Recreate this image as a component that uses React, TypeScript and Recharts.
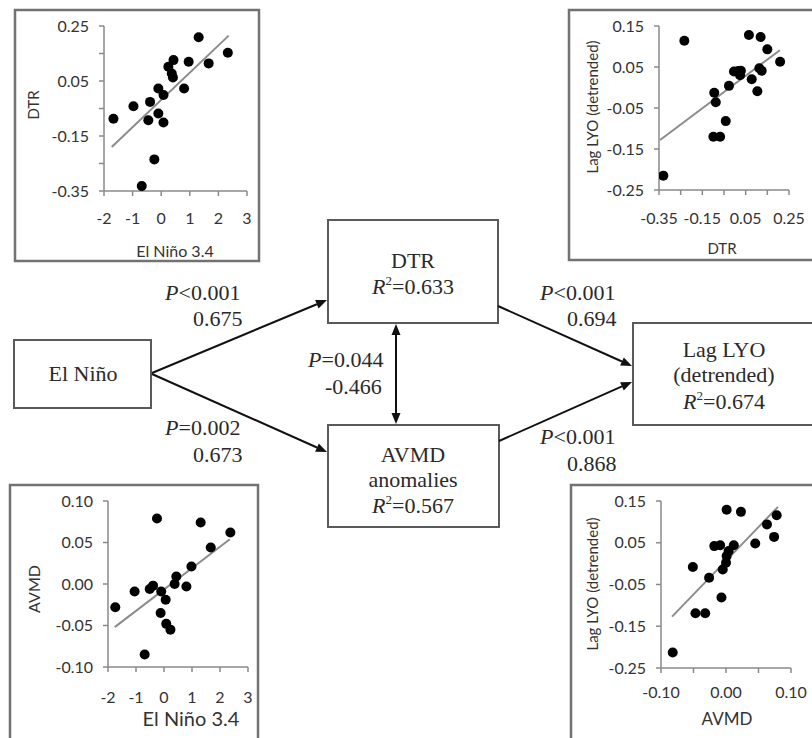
import React from "react";
import { ScatterChart, Scatter, XAxis, YAxis, ReferenceLine, Label } from "recharts";

// ---------- data ----------
const dtrVsNino = [
  { x: -1.67, y: -0.087 }, { x: -0.97, y: -0.042 }, { x: -0.39, y: -0.026 }, { x: -0.45, y: -0.093 },
  { x: -0.1, y: -0.068 }, { x: 0.08, y: -0.101 }, { x: -0.1, y: 0.023 }, { x: 0.08, y: -0.001 },
  { x: 0.25, y: 0.102 }, { x: 0.43, y: 0.126 }, { x: 0.37, y: 0.077 }, { x: 0.41, y: 0.063 },
  { x: 0.8, y: 0.023 }, { x: 0.96, y: 0.12 }, { x: 1.31, y: 0.209 }, { x: 1.66, y: 0.114 },
  { x: 2.33, y: 0.153 }, { x: -0.24, y: -0.235 }, { x: -0.68, y: -0.332 },
];
const dtrVsNinoTrend = [{ x: -1.73, y: -0.19 }, { x: 2.36, y: 0.215 }];

const lyoVsDtr = [
  { x: -0.33, y: -0.215 }, { x: -0.233, y: 0.114 }, { x: -0.095, y: -0.013 }, { x: -0.088, y: -0.036 },
  { x: -0.099, y: -0.12 }, { x: -0.068, y: -0.12 }, { x: -0.042, y: -0.082 }, { x: -0.027, y: 0.004 },
  { x: -0.004, y: 0.039 }, { x: 0.016, y: 0.04 }, { x: 0.024, y: 0.03 }, { x: 0.028, y: 0.041 },
  { x: 0.065, y: 0.128 }, { x: 0.078, y: 0.02 }, { x: 0.104, y: -0.009 }, { x: 0.113, y: 0.047 },
  { x: 0.124, y: 0.041 }, { x: 0.119, y: 0.123 }, { x: 0.15, y: 0.093 }, { x: 0.209, y: 0.063 },
];
const lyoVsDtrTrend = [{ x: -0.345, y: -0.128 }, { x: 0.208, y: 0.091 }];

const avmdVsNino = [
  { x: -1.74, y: -0.028 }, { x: -1.05, y: -0.009 }, { x: -0.51, y: -0.006 }, { x: -0.39, y: -0.002 },
  { x: -0.25, y: 0.079 }, { x: -0.1, y: -0.009 }, { x: -0.12, y: -0.035 }, { x: 0.06, y: -0.019 },
  { x: 0.08, y: -0.048 }, { x: 0.23, y: -0.055 }, { x: 0.38, y: 0.0 }, { x: 0.44, y: 0.009 },
  { x: 0.8, y: -0.003 }, { x: 0.98, y: 0.021 }, { x: 1.31, y: 0.074 }, { x: 1.67, y: 0.044 },
  { x: 2.37, y: 0.062 }, { x: -0.69, y: -0.085 },
];
const avmdVsNinoTrend = [{ x: -1.76, y: -0.052 }, { x: 2.35, y: 0.054 }];

const lyoVsAvmd = [
  { x: -0.082, y: -0.213 }, { x: -0.051, y: -0.008 }, { x: -0.047, y: -0.119 }, { x: -0.032, y: -0.119 },
  { x: -0.026, y: -0.034 }, { x: -0.018, y: 0.042 }, { x: -0.009, y: 0.044 }, { x: -0.007, y: -0.081 },
  { x: -0.005, y: -0.014 }, { x: 0.0, y: 0.002 }, { x: 0.001, y: 0.129 }, { x: 0.001, y: 0.018 },
  { x: 0.004, y: 0.03 }, { x: 0.012, y: 0.044 }, { x: 0.023, y: 0.124 }, { x: 0.045, y: 0.048 },
  { x: 0.063, y: 0.094 }, { x: 0.074, y: 0.064 }, { x: 0.078, y: 0.116 },
];
const lyoVsAvmdTrend = [{ x: -0.083, y: -0.127 }, { x: 0.08, y: 0.136 }];

// ---------- ticks ----------
const ninoTicks = [-2, -1, 0, 1, 2, 3];
const ninoTickLabels = ["-2", "-1", "0", "1", "2", "3"];
const dtrTicks = [-0.35, -0.25, -0.15, -0.05, 0.05, 0.15, 0.25];
const dtrTickLabels = ["-0.35", "", "-0.15", "", "0.05", "", "0.25"];
const lyoTicks = [-0.25, -0.15, -0.05, 0.05, 0.15];
const lyoTickLabels = ["-0.25", "-0.15", "-0.05", "0.05", "0.15"];
const avmdYTicks = [-0.1, -0.05, 0, 0.05, 0.1];
const avmdYTickLabels = ["-0.10", "-0.05", "0.00", "0.05", "0.10"];
const avmdXTicks = [-0.1, -0.05, 0, 0.05, 0.1];
const avmdXTickLabels = ["-0.10", "", "0.00", "", "0.10"];

// ---------- styles ----------
const AX = "#8a8a8a";
const TXT = "#333";
const SANS = "Lato, 'Open Sans', sans-serif";
const SERIF = "'Liberation Serif', 'Times New Roman', serif";

type Pt = { x: number; y: number };
type Spec = {
  box: number[];
  plot: number[];
  xDomain: number[];
  yDomain: number[];
  xTicks: number[];
  xTickLabels: string[];
  yTicks: number[];
  yTickLabels: string[];
  xDy: number;
  data: Pt[];
  trend: Pt[];
  xTitle: string;
  xTitlePos: number[];
  xTitleSize: number;
  yTitle: string;
  yTitlePos: number[];
  yTitleSize: number;
};

const panels: Spec[] = [
  {
    box: [15, 10, 244, 251], plot: [104, 247, 26, 191],
    xDomain: [-2, 3], yDomain: [-0.35, 0.25],
    xTicks: ninoTicks, xTickLabels: ninoTickLabels, yTicks: dtrTicks, yTickLabels: dtrTickLabels, xDy: 28,
    data: dtrVsNino, trend: dtrVsNinoTrend,
    xTitle: "El Niño 3.4", xTitlePos: [175, 250], xTitleSize: 16,
    yTitle: "DTR", yTitlePos: [33, 105], yTitleSize: 15,
  },
  {
    box: [569, 10, 260, 250], plot: [659, 789, 26, 190],
    xDomain: [-0.35, 0.25], yDomain: [-0.25, 0.15],
    xTicks: dtrTicks, xTickLabels: dtrTickLabels, yTicks: lyoTicks, yTickLabels: lyoTickLabels, xDy: 29,
    data: lyoVsDtr, trend: lyoVsDtrTrend,
    xTitle: "DTR", xTitlePos: [722, 248], xTitleSize: 15,
    yTitle: "Lag LYO (detrended)", yTitlePos: [592, 107], yTitleSize: 15,
  },
  {
    box: [10, 485, 248, 270], plot: [108, 248, 501, 667],
    xDomain: [-2, 3], yDomain: [-0.1, 0.1],
    xTicks: ninoTicks, xTickLabels: ninoTickLabels, yTicks: avmdYTicks, yTickLabels: avmdYTickLabels, xDy: 31,
    data: avmdVsNino, trend: avmdVsNinoTrend,
    xTitle: "El Niño 3.4", xTitlePos: [191, 718], xTitleSize: 20,
    yTitle: "AVMD", yTitlePos: [33, 589], yTitleSize: 16,
  },
  {
    box: [571, 485, 260, 270], plot: [661, 791, 501, 668],
    xDomain: [-0.1, 0.1], yDomain: [-0.25, 0.15],
    xTicks: avmdXTicks, xTickLabels: avmdXTickLabels, yTicks: lyoTicks, yTickLabels: lyoTickLabels, xDy: 25,
    data: lyoVsAvmd, trend: lyoVsAvmdTrend,
    xTitle: "AVMD", xTitlePos: [727, 718], xTitleSize: 17,
    yTitle: "Lag LYO (detrended)", yTitlePos: [592, 584], yTitleSize: 15,
  },
];

const findLabel = (ticks: number[], labels: string[], v: number) => {
  const i = ticks.findIndex((t) => Math.abs(t - v) < 1e-9);
  return i >= 0 ? labels[i] : "";
};

function Panel({ spec }: { spec: Spec }) {
  const [bl, bt, bw, bh] = spec.box;
  const [px0, px1, py0, py1] = spec.plot;
  const margin = { top: py0 - bt, right: bl + bw - px1, left: 0, bottom: 0 };
  const yAxisW = px0 - bl;
  const xAxisH = bt + bh - py1;
  const xTick = (p: any) => {
    const s = findLabel(spec.xTicks, spec.xTickLabels, p.payload.value);
    if (!s) return <g />;
    return (
      <text x={p.x} y={p.y + spec.xDy} textAnchor="middle" fontFamily={SANS} fontSize={16} fill={TXT}>
        {s}
      </text>
    );
  };
  const yTick = (p: any) => {
    const s = findLabel(spec.yTicks, spec.yTickLabels, p.payload.value);
    if (!s) return <g />;
    return (
      <text x={p.x} y={p.y + 5.5} textAnchor="end" fontFamily={SANS} fontSize={16} fill={TXT}>
        {s}
      </text>
    );
  };
  const xt = spec.xTitlePos;
  const yt = spec.yTitlePos;
  return (
    <div style={{ position: "absolute", left: bl, top: bt, width: bw, height: bh }}>
      <ScatterChart width={bw} height={bh} margin={margin}>
        <XAxis
          type="number" dataKey="x" domain={spec.xDomain} ticks={spec.xTicks} interval={0}
          height={xAxisH} allowDataOverflow
          axisLine={{ stroke: AX, strokeWidth: 1.5 }} tickLine={{ stroke: AX, strokeWidth: 1.5 }}
          tickSize={5} tickMargin={0} tick={xTick}
        >
          <Label
            content={() => (
              <text x={xt[0] - bl} y={xt[1] - bt} textAnchor="middle" dominantBaseline="central"
                fontFamily={SANS} fontSize={spec.xTitleSize} fill={TXT}>
                {spec.xTitle}
              </text>
            )}
          />
        </XAxis>
        <YAxis
          type="number" dataKey="y" domain={spec.yDomain} ticks={spec.yTicks} interval={0}
          width={yAxisW} allowDataOverflow
          axisLine={{ stroke: AX, strokeWidth: 1.5 }} tickLine={{ stroke: AX, strokeWidth: 1.5 }}
          tickSize={5} tickMargin={10} tick={yTick}
        >
          <Label
            content={() => (
              <text x={yt[0] - bl} y={yt[1] - bt} textAnchor="middle" dominantBaseline="central"
                transform={`rotate(-90, ${yt[0] - bl}, ${yt[1] - bt})`}
                fontFamily={SANS} fontSize={spec.yTitleSize} fill={TXT}>
                {spec.yTitle}
              </text>
            )}
          />
        </YAxis>
        <ReferenceLine segment={spec.trend} stroke="#8c8c8c" strokeWidth={2} />
        <Scatter
          data={spec.data} isAnimationActive={false}
          shape={(p: any) => <circle cx={p.cx} cy={p.cy} r={5} fill="#000" />}
        />
      </ScatterChart>
    </div>
  );
}

function Arrow({ x1, y1, x2, y2, both }: { x1: number; y1: number; x2: number; y2: number; both?: boolean }) {
  const dx = x2 - x1, dy = y2 - y1;
  const L = Math.hypot(dx, dy);
  const ux = dx / L, uy = dy / L;
  const h = 11, w = 4.5;
  const head = (tx: number, ty: number, sx: number, sy: number) => {
    const bx = tx - sx * h, by = ty - sy * h;
    return `${tx},${ty} ${bx - sy * w},${by + sx * w} ${bx + sy * w},${by - sx * w}`;
  };
  const sx = both ? x1 + ux * h : x1, sy = both ? y1 + uy * h : y1;
  return (
    <g>
      <line x1={sx} y1={sy} x2={x2 - ux * h} y2={y2 - uy * h} stroke="#111" strokeWidth={2} />
      <polygon points={head(x2, y2, ux, uy)} fill="#111" />
      {both && <polygon points={head(x1, y1, -ux, -uy)} fill="#111" />}
    </g>
  );
}

const BOXC = "#5a5a5a";
const PANELC = "#727272";

function R2({ x, y, v }: { x: number; y: number; v: string }) {
  return (
    <text x={x} y={y} textAnchor="middle" fontFamily={SERIF} fontSize={22} fill="#2a2a2a">
      <tspan fontStyle="italic">R</tspan>
      <tspan dy={-9} fontSize={13}>2</tspan>
      <tspan dy={9}>={v}</tspan>
    </text>
  );
}

function PLabel({ x, y, op, v, x2, y2, coef }: any) {
  return (
    <g fontFamily={SERIF} fontSize={22} fill="#2a2a2a">
      <text x={x} y={y}>
        <tspan fontStyle="italic">P</tspan>
        {op}{v}
      </text>
      <text x={x2} y={y2}>{coef}</text>
    </g>
  );
}

export default function App() {
  return (
    <div style={{ position: "absolute", left: 0, top: 0, width: 812, height: 738, overflow: "hidden", background: "#fff" }}>
      <svg width={812} height={738} style={{ position: "absolute", left: 0, top: 0 }}>
        {/* panel frames */}
        <rect x={15} y={10} width={244} height={251} fill="none" stroke={PANELC} strokeWidth={2.5} />
        <rect x={569} y={10} width={260} height={250} fill="none" stroke={PANELC} strokeWidth={2.5} />
        <rect x={10} y={485} width={248} height={270} fill="none" stroke={PANELC} strokeWidth={2.5} />
        <rect x={571} y={485} width={260} height={270} fill="none" stroke={PANELC} strokeWidth={2.5} />
        {/* diagram boxes */}
        <rect x={14} y={340} width={137} height={68} fill="none" stroke={BOXC} strokeWidth={2} />
        <rect x={328} y={220} width={170} height={103} fill="none" stroke={BOXC} strokeWidth={2} />
        <rect x={328} y={425} width={171} height={102} fill="none" stroke={BOXC} strokeWidth={2} />
        <rect x={633} y={323} width={200} height={102} fill="none" stroke={BOXC} strokeWidth={2} />
        {/* arrows */}
        <Arrow x1={152} y1={373} x2={327} y2={300} />
        <Arrow x1={152} y1={374} x2={327} y2={452} />
        <Arrow x1={498} y1={306} x2={632} y2={366} />
        <Arrow x1={499} y1={441} x2={632} y2={382} />
        <Arrow x1={396} y1={324} x2={396} y2={424} both />
        {/* box texts */}
        <text x={83} y={381} textAnchor="middle" fontFamily={SERIF} fontSize={22} fill="#2a2a2a">El Niño</text>
        <text x={413} y={268} textAnchor="middle" fontFamily={SERIF} fontSize={22} fill="#2a2a2a">DTR</text>
        <R2 x={413} y={294} v="0.633" />
        <text x={413} y={462} textAnchor="middle" fontFamily={SERIF} fontSize={22} fill="#2a2a2a">AVMD</text>
        <text x={413} y={487} textAnchor="middle" fontFamily={SERIF} fontSize={22} fill="#2a2a2a">anomalies</text>
        <R2 x={413} y={513} v="0.567" />
        <text x={724} y={357} textAnchor="middle" fontFamily={SERIF} fontSize={22} fill="#2a2a2a">Lag LYO</text>
        <text x={724} y={382} textAnchor="middle" fontFamily={SERIF} fontSize={22} fill="#2a2a2a">(detrended)</text>
        <R2 x={724} y={409} v="0.674" />
        {/* path labels */}
        <PLabel x={165} y={300} op="<" v="0.001" x2={193} y2={326} coef="0.675" />
        <PLabel x={165} y={435} op="=" v="0.002" x2={193} y2={462} coef="0.673" />
        <PLabel x={308} y={367} op="=" v="0.044" x2={325} y2={394} coef="-0.466" />
        <PLabel x={540} y={300} op="<" v="0.001" x2={567} y2={326} coef="0.694" />
        <PLabel x={540} y={444} op="<" v="0.001" x2={567} y2={471} coef="0.868" />
      </svg>
      {panels.map((s, i) => (
        <Panel key={i} spec={s} />
      ))}
    </div>
  );
}
